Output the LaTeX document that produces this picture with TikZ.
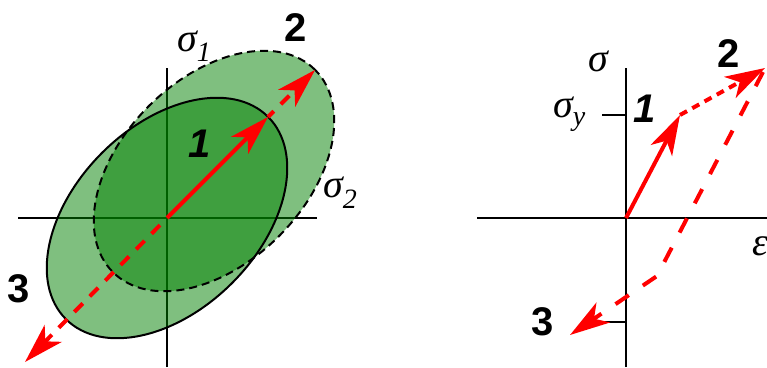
\documentclass[tikz,border=0pt]{standalone}
\usepackage{fontspec}
\setmainfont{Liberation Serif}
\newfontfamily\digitfont{Liberation Sans}
\usetikzlibrary{arrows.meta}
\definecolor{plgreen}{RGB}{0,128,0}
\definecolor{pred}{RGB}{255,0,0}
\tikzset{
  axisline/.style={line width=2.5pt, black},
  yieldfill/.style={fill=plgreen, fill opacity=0.5, draw=none},
  yieldline/.style={line width=2pt, black},
  redline/.style={draw=pred, line width=4pt},
  redtip/.style={-{Stealth[length=40pt,width=24pt,inset=11pt]}},
  numlbl/.style={inner sep=0pt, anchor=base west, font=\digitfont\bfseries\fontsize{40}{40}\selectfont},
  symlbl/.style={inner sep=0pt, anchor=base west, font=\fontsize{40}{40}\selectfont\itshape},
}
\begin{document}
\begin{tikzpicture}[x=1pt,y=1pt]
\useasboundingbox (0,0) rectangle (767,367);
% ---------- left: yield surfaces ----------
\coordinate (O) at (167,149);
\coordinate (C2) at (214,196);
\coordinate (L1) at (268.1,250.1);
\coordinate (L2) at (315.1,297.1);
\coordinate (L3) at (25,5);
\coordinate (vt) at (167,299);
\coordinate (vb) at (167,0);
\coordinate (hl) at (18,149);
\coordinate (hr) at (317,149);
\draw[axisline] (vb) -- (vt);
\draw[axisline] (hl) -- (hr);
\fill[yieldfill, rotate around={45:(O)}] (O) ellipse [x radius=143pt, y radius=92pt];
\fill[yieldfill, rotate around={45:(C2)}] (C2) ellipse [x radius=143pt, y radius=92pt];
\draw[yieldline, dash pattern=on 8pt off 5pt, rotate around={45:(C2)}] (C2) ellipse [x radius=143pt, y radius=92pt];
\draw[yieldline, rotate around={45:(O)}] (O) ellipse [x radius=143pt, y radius=92pt];
\draw[redline, redtip] (O) -- (L1);
\draw[redline, redtip, dash pattern=on 12pt off 10pt, dash phase=4pt] (L1) -- (L2);
\draw[redline, redtip, dash pattern=on 12pt off 10pt, dash phase=12pt] (O) -- (L3);
\node[symlbl] (s1) at (177,315) {σ\raisebox{-10pt}{\fontsize{28}{28}\selectfont 1}};
\node[symlbl] (s2) at (323,170) {σ\raisebox{-11pt}{\fontsize{28}{28}\selectfont 2}};
\node[numlbl] (n2l) at (284,325) {2};
\node[numlbl, font=\digitfont\bfseries\itshape\fontsize{40}{40}\selectfont] (n1l) at (188,209) {1};
\node[numlbl] (n3l) at (7,65) {3};
% ---------- right: stress-strain ----------
\coordinate (R0) at (626,149);
\coordinate (R1) at (680,252);
\coordinate (R2) at (765,299);
\coordinate (R2b) at (763,295);
\coordinate (Rk) at (657,91);
\coordinate (R3) at (570,32);
\coordinate (rvt) at (626,299);
\coordinate (rvb) at (626,0);
\coordinate (rhl) at (477,149);
\coordinate (rhr) at (767,149);
\coordinate (ty1) at (602,252);
\coordinate (ty3) at (602,45);
\draw[axisline] (rvb) -- (rvt);
\draw[axisline] (rhl) -- (rhr);
\draw[axisline] (ty1) -- (ty1 -| R0);
\draw[axisline] (ty3) -- (ty3 -| R0);
\draw[redline, redtip, dash pattern=on 16pt off 17pt] (R2b) -- (Rk) -- (R3);
\draw[redline, redtip] (R0) -- (R1);
\draw[redline, redtip, dash pattern=on 8pt off 6pt] (R1) -- (R2);
\node[symlbl] (sg) at (588,295) {σ};
\node[symlbl] (sy) at (553,249) {σ\raisebox{-8pt}{\fontsize{28}{28}\selectfont y}};
\node[symlbl] (eps) at (752,112) {ε};
\node[numlbl, font=\digitfont\bfseries\itshape\fontsize{40}{40}\selectfont] (n1r) at (633,244) {1};
\node[numlbl] (n2r) at (717,299) {2};
\node[numlbl] (n3r) at (531,32) {3};
\end{tikzpicture}
\end{document}
